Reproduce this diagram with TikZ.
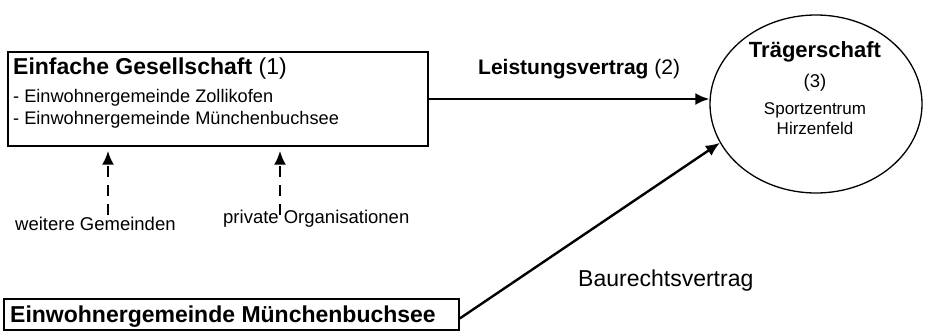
\documentclass[tikz,border=0pt]{standalone}
\usepackage{fontspec}
\setmainfont{Liberation Sans}
\usetikzlibrary{arrows.meta}
\usetikzlibrary{shapes.geometric}

\begin{document}
\begin{tikzpicture}[x = 1pt, y = -1pt]
% Node styles ---
\tikzstyle{box} = [rectangle, draw = black, line width = 1.4pt, inner sep = 0pt] % Parties
\tikzstyle{ell} = [ellipse, draw = black, line width = 1.3pt, inner sep = 0pt, minimum width = 212pt, minimum height = 178pt] % Trägerschaft
\tikzstyle{txt} = [inner sep = 0pt, anchor = base west] % Left texts
\tikzstyle{ctr} = [inner sep = 0pt, anchor = base] % Centred texts
\tikzstyle{big} = [font = \fontsize{23}{27}\selectfont]
\tikzstyle{mid} = [font = \fontsize{18.5}{22}\selectfont]
\tikzstyle{lst} = [font = \fontsize{18.2}{22}\selectfont]
\tikzstyle{sml} = [font = \fontsize{17}{20}\selectfont]
% Edge styles
\tikzstyle{con} = [-{Latex[length = 14pt, width = 12pt]}, line width = 2.4pt] % Contracts
\tikzstyle{opt} = [con, dash pattern = on 11pt off 8pt] % Possible members
% Begin Figure ---
\useasboundingbox (0,0) rectangle (926,332);
% Nodes
\node at (218,99) [box, minimum width = 420pt, minimum height = 94pt] (gesell) {};
\node at (13,74) [txt, big] (gtitle) {\textbf{Einfache Gesellschaft} (1)};
\node at (13,102) [txt, lst] (gzoll) {- Einwohnergemeinde Zollikofen};
\node at (13,124) [txt, lst] (gmuen) {- Einwohnergemeinde Münchenbuchsee};
\node at (816,104) [ell] (traeger) {};
\node at (815,57) [ctr, font = \fontsize{22}{26}\selectfont] (ttitle) {\textbf{Trägerschaft}};
\node at (815,87) [ctr, mid] (tnum) {(3)};
\node at (815,114) [ctr, sml] (tsport) {Sportzentrum};
\node at (815,134) [ctr, sml] (thirz) {Hirzenfeld};
\node at (478,74) [txt, font = \fontsize{21}{25}\selectfont] (leist) {\textbf{Leistungsvertrag} (2)};
\node at (15,230) [txt, mid] (weitere) {weitere Gemeinden};
\node at (223,223) [txt, mid] (privat) {private Organisationen};
\node at (578,286) [txt, big] (baurecht) {Baurechtsvertrag};
\node at (231.5,314.5) [box, minimum width = 455pt, minimum height = 31pt] (muenchen) {};
\node at (10,322) [txt, big] (mtitle) {\textbf{Einwohnergemeinde Münchenbuchsee}};
\coordinate (wstart) at (108,215);
\coordinate (pstart) at (280,215);
% Paths
\draw [con] (gesell.east) -- (traeger.west |- gesell.east);
\draw [con] ([yshift = -4pt]muenchen.east) -- (traeger.202);
\draw [opt, shorten > = 4pt] (wstart) -- (wstart |- gesell.south);
\draw [opt, shorten > = 4pt] (pstart) -- (pstart |- gesell.south);
\end{tikzpicture}
\end{document}
